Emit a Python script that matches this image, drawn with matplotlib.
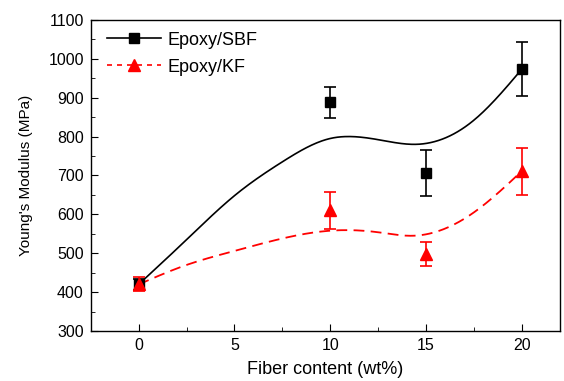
import numpy as np
import matplotlib
matplotlib.use("Agg")
from matplotlib import pyplot as plt
from matplotlib.ticker import MultipleLocator

plt.rcParams['font.family'] = ['Liberation Sans', 'DejaVu Sans']

fiber = [0, 10, 15, 20]
sbf_mod = [420, 888, 706, 973]
sbf_err = [15, 40, 60, 70]
kf_mod = [420, 610, 498, 711]
kf_err = [18, 48, 30, 60]

# smooth trend lines
sbf_curve_x = [0, 2.5, 5, 7.5, 10, 11, 12.5, 14.5, 17.5, 20]
sbf_curve_y = [420, 535, 648, 735, 795, 800, 792, 780, 842, 973]
kf_curve_x = [0, 2.5, 5, 7.5, 10, 12.5, 14.3, 17.5, 20]
kf_curve_y = [420, 470, 506, 538, 558, 554, 545, 605, 711]


def natural_spline(xs, ys, n=300):
    xs = np.asarray(xs, float)
    ys = np.asarray(ys, float)
    k = len(xs)
    h = np.diff(xs)
    A = np.zeros((k, k))
    b = np.zeros(k)
    A[0, 0] = A[-1, -1] = 1
    for i in range(1, k - 1):
        A[i, i - 1] = h[i - 1]
        A[i, i] = 2 * (h[i - 1] + h[i])
        A[i, i + 1] = h[i]
        b[i] = 6 * ((ys[i + 1] - ys[i]) / h[i] - (ys[i] - ys[i - 1]) / h[i - 1])
    m = np.linalg.solve(A, b)
    xx = np.linspace(xs[0], xs[-1], n)
    idx = np.clip(np.searchsorted(xs, xx) - 1, 0, k - 2)
    x0, x1 = xs[idx], xs[idx + 1]
    hh = x1 - x0
    t0, t1 = x1 - xx, xx - x0
    yy = (m[idx] * t0 ** 3 + m[idx + 1] * t1 ** 3) / (6 * hh) \
        + (ys[idx] / hh - m[idx] * hh / 6) * t0 \
        + (ys[idx + 1] / hh - m[idx + 1] * hh / 6) * t1
    return xx, yy


fig = plt.figure(figsize=(5.64, 3.81), dpi=100)
ax = fig.add_axes([0.161, 0.131, 0.832, 0.817])

cx, cy = natural_spline(sbf_curve_x, sbf_curve_y)
ax.plot(cx, cy, color='black', lw=1.2)
cx, cy = natural_spline(kf_curve_x, kf_curve_y)
ax.plot(cx, cy, color='red', lw=1.3, ls=(0, (6, 3.5)))

ax.errorbar(fiber, sbf_mod, yerr=sbf_err, fmt='s', color='black', ms=7,
            capsize=4, elinewidth=1.2, capthick=1.2)
ax.errorbar(fiber, kf_mod, yerr=kf_err, fmt='^', color='red', ms=9,
            capsize=4, elinewidth=1.2, capthick=1.2)

# legend proxies
ax.plot([], [], color='black', lw=1.2, marker='s', ms=7, label='Epoxy/SBF')
ax.plot([], [], color='red', lw=1.2, ls=(0, (3, 3)), marker='^', ms=9, label='Epoxy/KF')
h, l = ax.get_legend_handles_labels()
ax.legend(h[-2:], l[-2:], loc='upper left', bbox_to_anchor=(0.034, 0.962),
          frameon=False, fontsize=13, handlelength=3.0, borderpad=0,
          borderaxespad=0, handletextpad=0.35, labelspacing=0.55)

ax.set_xlim(-2.5, 22)
ax.set_ylim(300, 1100)
ax.xaxis.set_major_locator(MultipleLocator(5))
ax.xaxis.set_minor_locator(MultipleLocator(2.5))
ax.yaxis.set_major_locator(MultipleLocator(100))
ax.yaxis.set_minor_locator(MultipleLocator(50))
ax.tick_params(which='both', direction='in', labelsize=11.5)
ax.tick_params(which='major', length=5, pad=5)
ax.tick_params(which='minor', length=3)
ax.set_xlabel('Fiber content (wt%)', fontsize=13, labelpad=6)
ax.set_ylabel("Young's Modulus (MPa)", fontsize=11, labelpad=11)
for s in ax.spines.values():
    s.set_linewidth(1.0)

fig.savefig('out.png', dpi=100)
